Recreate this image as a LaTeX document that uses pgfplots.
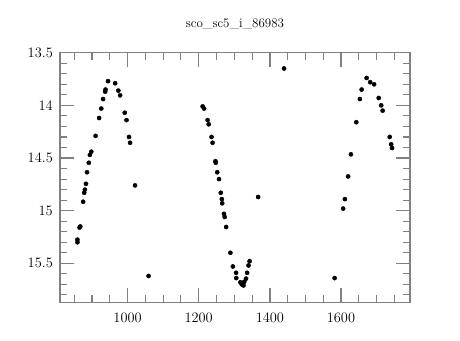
\documentclass[border=0pt]{standalone}
\usepackage{pgfplots}
\pgfplotsset{compat=1.18}
\begin{document}
\begin{tikzpicture}
\path[use as bounding box] (0,0) rectangle (460pt,340pt);
\begin{axis}[
  at={(60pt,37.7pt)}, anchor=south west,
  scale only axis, width=350pt, height=249.6pt,
  xmin=810, xmax=1794, ymin=13.5, ymax=15.87,
  y dir=reverse,
  xtick={1000,1200,1400,1600}, ytick={13.5,14,14.5,15,15.5},
  minor xtick={850,900,950,1050,1100,1150,1250,1300,1350,1450,1500,1550,1650,1700,1750},
  minor ytick={13.6,13.7,13.8,13.9,14.1,14.2,14.3,14.4,14.6,14.7,14.8,14.9,15.1,15.2,15.3,15.4,15.6,15.7,15.8},
  tick align=inside,
  major tick length=14pt, minor tick length=7pt,
  axis line style={black!50, line width=1.3pt},
  major tick style={black!50, line width=1.3pt},
  minor tick style={black!50, line width=1.1pt},
  ticklabel style={font=\fontsize{14.5}{16}\selectfont},
  xticklabel style={anchor=center, yshift=-15.7pt, inner sep=0pt},
  yticklabel style={anchor=east, xshift=-7pt, inner sep=0pt},
  x tick label style={/pgf/number format/1000 sep={}},
  yticklabel={\pgfmathprintnumber[fixed]{\tick}},
  title={sco\_sc5\_i\_86983},
  title style={at={(0.5,1)}, anchor=center, yshift=22.7pt, font=\fontsize{13}{14}\selectfont},
]
\addplot[only marks, mark=*, mark size=2.1pt, black] coordinates {
(859,15.275) (859,15.30) (865,15.16) (867,15.15) (875,14.915) (878,14.83)
(880,14.80) (883,14.745) (886,14.635) (891,14.545) (894,14.47) (898,14.44)
(910,14.29) (920,14.12) (926,14.03) (931,13.94) (937,13.87) (938,13.85)
(945,13.77) (965,13.79) (974,13.86) (979,13.905) (992,14.07) (997,14.14)
(1004,14.30) (1007,14.355) (1021,14.76) (1059,15.62)
(1211,14.01) (1215,14.03) (1225,14.14) (1228,14.18) (1236,14.30) (1239,14.355)
(1247,14.53) (1248,14.545) (1252,14.635) (1257,14.70) (1262,14.83) (1265,14.89)
(1266,14.93) (1271,15.03) (1273,15.06) (1277,15.155) (1289,15.40) (1296,15.53)
(1305,15.59) (1305.5,15.64) (1317,15.68) (1321,15.70) (1326,15.71) (1328,15.675)
(1333,15.645) (1336,15.59) (1340,15.52) (1343,15.48) (1367,14.87) (1440,13.65)
(1582,15.64) (1606,14.98) (1611,14.89) (1620,14.675) (1628,14.465) (1643,14.16)
(1653,13.94) (1658,13.85) (1672,13.74) (1682,13.78) (1693,13.80) (1706,13.93)
(1713,14.00) (1717,14.05) (1737,14.30) (1741,14.37) (1743.5,14.405)
};
\end{axis}
\end{tikzpicture}
\end{document}
